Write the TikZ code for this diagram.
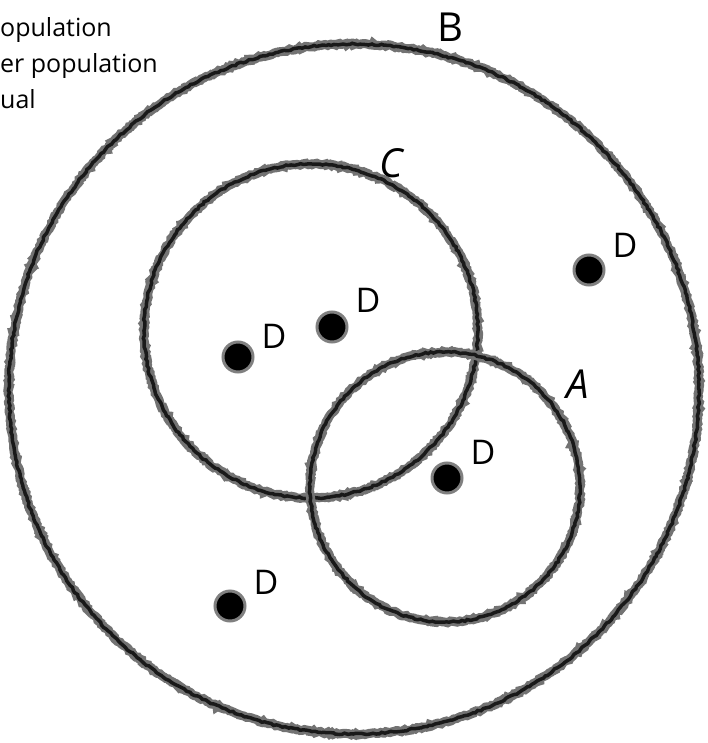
\documentclass[tikz,border=0pt]{standalone}
\usepackage{fontspec}
\setmainfont{Open Sans}
\usetikzlibrary{positioning,decorations.pathmorphing}
\tikzset{%
  % circles
  ring/.style={draw=black!55, line width=9pt, decorate,
    decoration={random steps, segment length=2pt, amplitude=1pt}},
  ringcore/.style={draw=black!90, line width=3.5pt, decorate,
    decoration={random steps, segment length=3pt, amplitude=0.8pt}},
  % individuals
  dot/.style={circle, fill=black, minimum size=30pt, inner sep=0pt,
    draw=black!50, line width=3pt},
  tag/.style={font=\fontsize{34}{34}\selectfont, inner sep=0pt},
  bigtag/.style={font=\fontsize{40}{40}\selectfont, inner sep=0pt},
  legend/.style={align=left, inner sep=0pt,
    font=\fontsize{25}{36}\selectfont},
}
\begin{document}
\begin{tikzpicture}[x=1pt, y=-1pt]
  \useasboundingbox (0,0) rectangle (708,743);
  \clip (0,0) rectangle (708,743);

  % circles
  \coordinate (cB) at (354,389);
  \coordinate (cC) at (311,331);
  \coordinate (cA) at (445,487);
  \draw[ring] (cB) circle[radius=345];
  \draw[ringcore] (cB) circle[radius=345];
  \draw[ring] (cC) circle[radius=167];
  \draw[ringcore] (cC) circle[radius=167];
  \draw[ring] (cA) circle[radius=135];
  \draw[ringcore] (cA) circle[radius=135];

  % circle labels
  \node[bigtag] (labB) at (450,27) {B};
  \node[bigtag] (labC) at (391,163) {\itshape C};
  \node[bigtag] (labA) at (578,384) {\itshape A};

  % individuals
  \node[dot] (d1) at (238,357) {};
  \node[dot] (d2) at (332,327) {};
  \node[dot] (d3) at (447,478) {};
  \node[dot] (d4) at (589,270) {};
  \node[dot] (d5) at (230,606) {};
  \node[tag, right=7pt of d1, yshift=21pt] {D};
  \node[tag, right=7pt of d2, yshift=27pt] {D};
  \node[tag, right=7pt of d3, yshift=26pt] {D};
  \node[tag, right=7pt of d4, yshift=25pt] {D};
  \node[tag, right=7pt of d5, yshift=24pt] {D};

  % legend (cut off at the edge)
  \node[legend, anchor=north west] (key) at (0,17)
    {opulation\\er population\\ual};
\end{tikzpicture}
\end{document}
